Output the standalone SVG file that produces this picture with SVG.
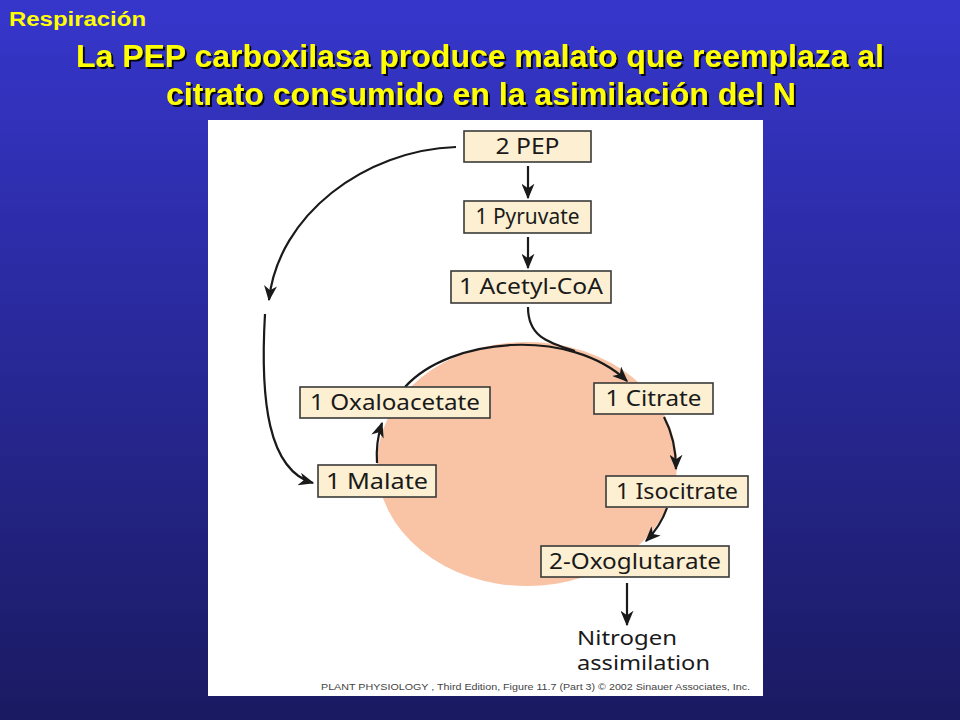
<svg xmlns="http://www.w3.org/2000/svg" width="960" height="720" viewBox="0 0 960 720">
<defs>
<linearGradient id="bg" x1="0" y1="0" x2="0" y2="1">
<stop offset="0" stop-color="#3636cc"/>
<stop offset="1" stop-color="#1a1a62"/>
</linearGradient>
<marker id="ah" viewBox="0 0 12 10" refX="11" refY="5" markerWidth="16" markerHeight="13" markerUnits="userSpaceOnUse" orient="auto">
<path d="M0,0 L12,5 L0,10 L3.5,5 z" fill="#1a1a1a"/>
</marker>
<filter id="sh" x="-5%" y="-20%" width="110%" height="140%">
<feDropShadow dx="2" dy="2" stdDeviation="0.6" flood-color="#000" flood-opacity="0.9"/>
</filter>
</defs>
<style>
.box{fill:#fdf0d2;stroke:#3a3a3a;stroke-width:1.6}
.bt{font-family:"Noto Sans","Open Sans",sans-serif;font-size:21px;fill:#1a1a1a;text-anchor:middle}
.con{fill:none;stroke:#1a1a1a;stroke-width:2.2}
.title{font-family:"Liberation Sans",Arial,sans-serif;font-weight:bold;fill:#ffff00}
</style>
<rect width="960" height="720" fill="url(#bg)"/>
<rect x="208" y="120" width="555" height="576" fill="#ffffff"/>
<text x="9" y="26" class="title" font-size="20" textLength="137" lengthAdjust="spacingAndGlyphs">Respiración</text>
<g filter="url(#sh)">
<text x="480" y="67" class="title" font-size="31" text-anchor="middle" textLength="808" lengthAdjust="spacingAndGlyphs">La PEP carboxilasa produce malato que reemplaza al</text>
<text x="481" y="105" class="title" font-size="31" text-anchor="middle" textLength="630" lengthAdjust="spacingAndGlyphs">citrato consumido en la asimilación del N</text>
</g>
<ellipse id="cycle" cx="527" cy="464" rx="150" ry="122" fill="#f9c4a6"/>
<g id="connectors">
<path class="con" d="M528,166 L528,198" marker-end="url(#ah)"/>
<path class="con" d="M528,237 L528,268" marker-end="url(#ah)"/>
<path class="con" d="M528,307 C528,335 545,342 575,351"/>
<path class="con" d="M405,387 C450,337 570,327 627,381" marker-end="url(#ah)"/>
<path class="con" d="M664,417 C672,432 676,450 676,469" marker-end="url(#ah)"/>
<path class="con" d="M667,508 C662,522 655,532 646,541" marker-end="url(#ah)"/>
<path class="con" d="M377,463 C376,448 378,435 382,423" marker-end="url(#ah)"/>
<path class="con" d="M627,583 L627,625" marker-end="url(#ah)"/>
<path class="con" d="M456,147 C365,150 278,215 269,300" marker-end="url(#ah)"/>
<path class="con" d="M265,314 C260,400 268,470 313,483" marker-end="url(#ah)"/>
</g>
<g id="pep"><rect class="box" x="464" y="131" width="127" height="31"/><text class="bt" x="527.5" y="154" textLength="64" lengthAdjust="spacingAndGlyphs">2 PEP</text></g>
<g id="pyruvate"><rect class="box" x="464" y="201" width="127" height="32"/><text class="bt" x="527.5" y="224" textLength="104" lengthAdjust="spacingAndGlyphs">1 Pyruvate</text></g>
<g id="acetylcoa"><rect class="box" x="451" y="271" width="160" height="32"/><text class="bt" x="531" y="294" textLength="144" lengthAdjust="spacingAndGlyphs">1 Acetyl-CoA</text></g>
<g id="citrate"><rect class="box" x="594" y="383" width="119" height="31"/><text class="bt" x="653.5" y="406" textLength="96" lengthAdjust="spacingAndGlyphs">1 Citrate</text></g>
<g id="oxaloacetate"><rect class="box" x="300" y="387" width="190" height="31"/><text class="bt" x="395" y="410" textLength="170" lengthAdjust="spacingAndGlyphs">1 Oxaloacetate</text></g>
<g id="malate"><rect class="box" x="318" y="465" width="118" height="32"/><text class="bt" x="377" y="489" textLength="102" lengthAdjust="spacingAndGlyphs">1 Malate</text></g>
<g id="isocitrate"><rect class="box" x="606" y="476" width="142" height="31"/><text class="bt" x="677" y="499" textLength="122" lengthAdjust="spacingAndGlyphs">1 Isocitrate</text></g>
<g id="oxoglutarate"><rect class="box" x="541" y="546" width="188" height="31"/><text class="bt" x="635" y="569" textLength="172" lengthAdjust="spacingAndGlyphs">2-Oxoglutarate</text></g>
<g id="nitrogen">
<text x="577" y="645" font-family="Noto Sans,Open Sans,sans-serif" font-size="20" fill="#1a1a1a" textLength="100" lengthAdjust="spacingAndGlyphs">Nitrogen</text>
<text x="577" y="670" font-family="Noto Sans,Open Sans,sans-serif" font-size="20" fill="#1a1a1a" textLength="133" lengthAdjust="spacingAndGlyphs">assimilation</text>
</g>
<text x="321" y="690" font-family="Liberation Sans,Arial,sans-serif" font-size="9.5" fill="#444" textLength="429" lengthAdjust="spacingAndGlyphs">PLANT PHYSIOLOGY , Third Edition, Figure 11.7 (Part 3)  © 2002 Sinauer Associates, Inc.</text>
</svg>
